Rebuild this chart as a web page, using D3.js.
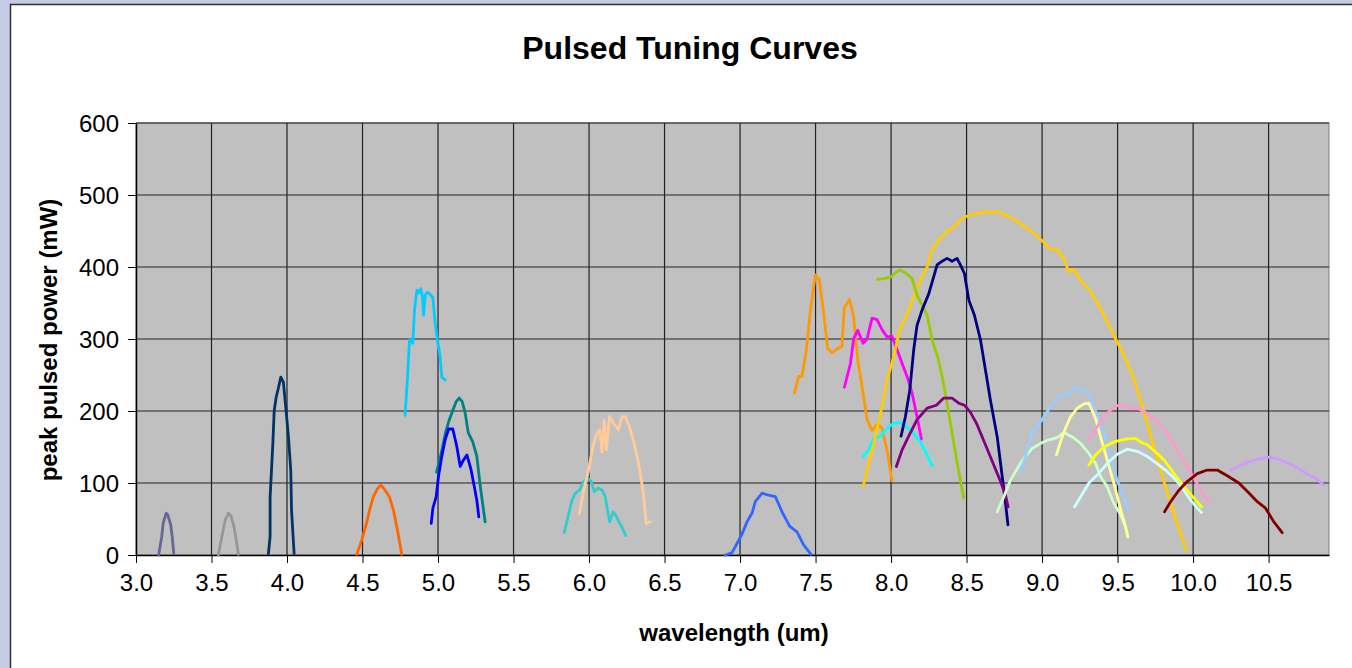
<!DOCTYPE html>
<html>
<head>
<meta charset="utf-8">
<script src="https://cdn.jsdelivr.net/npm/d3@7"></script>
<style>
  body { margin: 0; background: #c6cbe6; }
  svg { display: block; font-family: "Liberation Sans", Arial, sans-serif; }
</style>
</head>
<body>
<div id="chart"></div>
<script>
// wavelength (um), peak pulsed power (mW)
var s01 = [[3.15,0],[3.17,25],[3.18,44],[3.2,58],[3.21,56],[3.23,42],[3.24,25],[3.25,2]];
var s02 = [[3.545,0],[3.568,25],[3.59,48],[3.612,58],[3.63,54],[3.65,38],[3.663,22],[3.678,1]];
var s03 = [[3.877,2],[3.888,26],[3.888,80],[3.906,154],[3.915,200],[3.928,219],[3.943,232],[3.959,247],[3.976,240],[3.994,200],[4.01,163],[4.025,117],[4.03,62],[4.047,2]];
var s04 = [[4.462,1],[4.495,21],[4.524,42],[4.55,65],[4.572,81],[4.599,92],[4.621,97],[4.65,90],[4.678,81],[4.705,62],[4.731,35],[4.76,1]];
var s05 = [[4.782,194],[4.798,247],[4.811,299],[4.833,294],[4.844,340],[4.86,368],[4.873,364],[4.886,370],[4.897,359],[4.904,333],[4.917,362],[4.93,365],[4.948,362],[4.966,357],[4.981,322],[4.996,299],[5.014,275],[5.025,247],[5.047,243]];
var s06 = [[4.99,115],[5.02,140],[5.05,170],[5.07,185],[5.1,202],[5.12,213],[5.14,218],[5.16,213],[5.18,197],[5.2,170],[5.23,157],[5.257,137],[5.28,95],[5.312,46]];
var s07 = [[4.955,44],[4.966,65],[4.988,81],[5.003,109],[5.025,137],[5.047,160],[5.07,175],[5.098,175],[5.125,150],[5.147,123],[5.169,132],[5.191,139],[5.217,120],[5.24,95],[5.257,76],[5.27,53]];
var s08 = [[5.836,31],[5.864,56],[5.887,76],[5.909,86],[5.937,90],[5.964,102],[5.99,106],[6.013,103],[6.035,88],[6.063,93],[6.086,90],[6.107,81],[6.136,46],[6.159,60],[6.18,54],[6.202,44],[6.22,38],[6.242,27]];
var s09 = [[5.937,57],[5.964,90],[5.997,118],[6.025,150],[6.048,167],[6.07,174],[6.086,143],[6.101,187],[6.114,146],[6.136,192],[6.162,183],[6.195,174],[6.218,192],[6.24,192],[6.268,178],[6.299,155],[6.328,127],[6.357,90],[6.379,44],[6.405,46]];
var s10 = [[6.902,0],[6.946,3],[6.98,16],[7.013,29],[7.046,46],[7.079,58],[7.101,74],[7.146,86],[7.189,83],[7.234,81],[7.278,60],[7.328,40],[7.377,32],[7.421,14],[7.47,1]];
var s11 = [[7.36,225],[7.388,248],[7.41,248],[7.439,285],[7.466,340],[7.499,389],[7.525,382],[7.554,336],[7.58,287],[7.609,281],[7.642,286],[7.675,290],[7.69,343],[7.724,355],[7.752,331],[7.779,271],[7.808,234],[7.841,188],[7.874,173],[7.911,182],[7.94,176],[7.973,146],[8.006,103]];
var s12 = [[7.691,233],[7.731,266],[7.753,301],[7.779,312],[7.815,294],[7.841,300],[7.874,329],[7.907,327],[7.94,313],[7.973,303],[8.006,304],[8.04,285],[8.073,266],[8.106,248],[8.139,225],[8.172,192],[8.201,161]];
var s13 = [[7.815,137],[7.852,146],[7.885,162],[7.93,165],[7.973,176],[8.017,183],[8.062,184],[8.106,178],[8.15,169],[8.194,157],[8.234,141],[8.272,124]];
var s14 = [[7.815,95],[7.852,127],[7.896,164],[7.94,206],[7.973,243],[8.017,275],[8.057,313],[8.095,329],[8.15,359],[8.205,387],[8.239,400],[8.272,425],[8.316,437],[8.371,450],[8.415,455],[8.448,463],[8.493,470],[8.559,474],[8.603,475],[8.625,478],[8.658,475],[8.703,477],[8.769,471],[8.835,464],[8.879,457],[8.934,449],[9.007,435],[9.056,425],[9.1,424],[9.144,412],[9.177,393],[9.21,397],[9.255,382],[9.321,366],[9.376,347],[9.464,310],[9.497,296],[9.541,278],[9.586,257],[9.619,238],[9.652,215],[9.697,183],[9.741,150],[9.785,118],[9.83,86],[9.874,58],[9.917,30],[9.955,7]];
var s15 = [[7.911,383],[7.951,384],[7.996,386],[8.029,392],[8.057,396],[8.095,392],[8.139,384],[8.172,361],[8.205,347],[8.239,333],[8.272,299],[8.309,275],[8.338,248],[8.371,211],[8.404,169],[8.442,123],[8.481,79]];
var s16 = [[8.066,165],[8.095,192],[8.124,229],[8.15,285],[8.172,319],[8.205,340],[8.25,363],[8.305,403],[8.338,408],[8.371,412],[8.404,408],[8.437,412],[8.459,403],[8.486,391],[8.515,354],[8.552,333],[8.592,299],[8.625,257],[8.658,215],[8.703,164],[8.736,109],[8.758,72],[8.774,42]];
var s17 = [[8.035,123],[8.073,146],[8.117,165],[8.172,188],[8.239,204],[8.3,208],[8.349,218],[8.404,218],[8.448,211],[8.486,208],[8.526,198],[8.57,181],[8.625,153],[8.676,127],[8.725,102],[8.758,83],[8.775,67]];
var s18 = [[8.703,60],[8.747,81],[8.791,104],[8.835,120],[8.879,134],[8.934,148],[8.99,155],[9.045,160],[9.1,163],[9.144,170],[9.2,164],[9.255,155],[9.31,141],[9.354,127],[9.387,109],[9.431,95],[9.475,72],[9.52,56],[9.553,39],[9.568,25]];
var s19 = [[8.857,116],[8.89,137],[8.934,169],[9.0,188],[9.056,206],[9.111,220],[9.155,222],[9.188,227],[9.215,232],[9.255,230],[9.299,225],[9.321,218],[9.365,194],[9.409,169],[9.453,137],[9.497,104],[9.541,81],[9.571,63]];
var s20 = [[9.095,139],[9.127,160],[9.155,176],[9.188,192],[9.233,204],[9.277,210],[9.31,211],[9.354,190],[9.387,164],[9.431,132],[9.475,100],[9.52,63],[9.553,39],[9.568,25]];
var s21 = [[9.31,162],[9.354,174],[9.398,190],[9.453,201],[9.486,207],[9.53,208],[9.574,205],[9.63,204],[9.696,197],[9.762,185],[9.829,169],[9.895,146],[9.961,123],[10.038,95],[10.104,74]];
var s22 = [[9.31,125],[9.354,139],[9.409,150],[9.475,157],[9.553,161],[9.619,162],[9.652,157],[9.697,153],[9.752,143],[9.807,132],[9.851,120],[9.895,107],[9.95,93],[10.005,79],[10.056,67]];
var s23 = [[9.215,67],[9.255,81],[9.31,100],[9.365,111],[9.431,127],[9.497,140],[9.563,147],[9.63,144],[9.696,137],[9.762,127],[9.817,118],[9.874,107],[9.929,93],[9.984,76],[10.028,65],[10.056,59]];
var s24 = [[9.811,60],[9.851,74],[9.906,90],[9.961,102],[10.028,113],[10.094,118],[10.16,118],[10.226,110],[10.303,100],[10.37,86],[10.425,74],[10.48,65],[10.535,46],[10.59,31]];
var s25 = [[10.249,118],[10.31,124],[10.376,130],[10.442,134],[10.497,136],[10.553,134],[10.619,128],[10.685,122],[10.751,113],[10.817,106],[10.865,97]];

var series = [s01, s02, s03, s04, s05, s06, s07, s08, s09, s10, s11, s12, s13,
              s14, s15, s16, s17, s18, s19, s20, s21, s22, s23, s24, s25];
var colors = ["#666699", "#969696", "#003366", "#ff6600", "#00ccff", "#008080", "#0000ff",
              "#33cccc", "#ffcc99", "#3366ff", "#ff9900", "#ff00ff", "#00ffff",
              "#ffcc00", "#99cc00", "#000080", "#800080", "#ccffcc", "#99ccff",
              "#ffff99", "#ff99cc", "#ffff00", "#ccffff", "#800000", "#cc99ff"];

var xTicks = [3.0, 3.5, 4.0, 4.5, 5.0, 5.5, 6.0, 6.5, 7.0, 7.5, 8.0, 8.5, 9.0, 9.5, 10.0, 10.5];
var yTicks = [0, 100, 200, 300, 400, 500, 600];

var width = 1352,
    height = 668;

var svg = d3.select("#chart")
    .append("svg")
    .attr("width", width)
    .attr("height", height);

// white chart area with dark edge
svg.append("rect")
    .attr("x", 10.5).attr("y", 4.5)
    .attr("width", width).attr("height", height)
    .style("fill", "#fff")
    .style("stroke", "#333")
    .style("stroke-width", 1.5);

var x = d3.scaleLinear().domain([3, 10.9]).range([136, 1329]);
var y = d3.scaleLinear().domain([0, 600]).range([555, 123]);

// plot area
svg.append("rect")
    .attr("x", x(3)).attr("y", y(600))
    .attr("width", x(10.9) - x(3)).attr("height", y(0) - y(600))
    .style("fill", "#c0c0c0")
    .style("stroke", "#808080")
    .style("stroke-width", 1);

// grid
svg.append("g").selectAll("line")
    .data(yTicks.slice(1))
    .enter().append("line")
    .attr("x1", x(3)).attr("x2", x(10.9))
    .attr("y1", function(d) { return y(d); })
    .attr("y2", function(d) { return y(d); })
    .style("stroke", "#222").style("stroke-width", 1.2);

svg.append("g").selectAll("line")
    .data(xTicks.slice(1))
    .enter().append("line")
    .attr("x1", function(d) { return x(d); })
    .attr("x2", function(d) { return x(d); })
    .attr("y1", y(0)).attr("y2", y(600))
    .style("stroke", "#222").style("stroke-width", 1.2);

// axes
var xAxis = d3.axisBottom(x).tickValues(xTicks).tickFormat(d3.format(".1f"))
    .tickSize(8).tickSizeOuter(0);
var yAxis = d3.axisLeft(y).tickValues(yTicks).tickSize(8).tickSizeOuter(0);

var gx = svg.append("g").attr("transform", "translate(0," + y(0) + ")").call(xAxis);
var gy = svg.append("g").attr("transform", "translate(" + x(3) + ",0)").call(yAxis);

[gx, gy].forEach(function(g) {
  g.select(".domain").style("stroke", "#000").style("stroke-width", 1.5);
  g.selectAll(".tick line").style("stroke", "#000");
  g.selectAll("text")
      .style("font-family", "'Liberation Sans', Arial, sans-serif")
      .style("font-size", "24px")
      .style("fill", "#000");
});
gx.selectAll("text").attr("dy", "1.05em");
gy.selectAll("text").attr("x", -17).attr("dy", "0.35em");

// curves
var line = d3.line()
    .x(function(d) { return x(d[0]); })
    .y(function(d) { return y(d[1]); });

svg.append("g").selectAll("path")
    .data(series)
    .enter().append("path")
    .attr("d", line)
    .style("fill", "none")
    .style("stroke", function(d, i) { return colors[i]; })
    .style("stroke-width", 2.8)
    .style("stroke-linejoin", "round")
    .style("stroke-linecap", "round");

// titles
svg.append("text")
    .attr("x", 690).attr("y", 59)
    .attr("text-anchor", "middle")
    .style("font-size", "32px").style("font-weight", "bold")
    .text("Pulsed Tuning Curves");

svg.append("text")
    .attr("x", 734).attr("y", 641)
    .attr("text-anchor", "middle")
    .style("font-size", "24px").style("font-weight", "bold")
    .text("wavelength (um)");

svg.append("text")
    .attr("transform", "translate(57,340) rotate(-90)")
    .attr("text-anchor", "middle")
    .style("font-size", "24px").style("font-weight", "bold")
    .text("peak pulsed power (mW)");
</script>
</body>
</html>
